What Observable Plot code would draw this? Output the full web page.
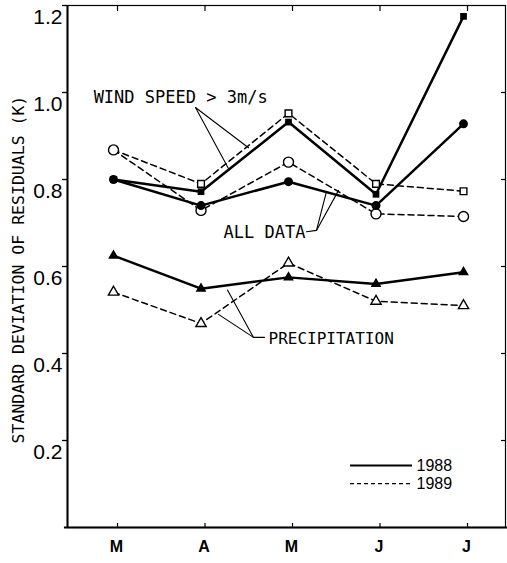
<!DOCTYPE html>
<html><head><meta charset="utf-8">
<script src="https://cdn.jsdelivr.net/npm/d3@7"></script>
<script src="https://cdn.jsdelivr.net/npm/@observablehq/plot@0.6"></script>
<style>html,body{margin:0;padding:0;background:#fff}svg{display:block}</style>
</head><body><div id="chart"></div>
<script>
// ---- data ----
const months = ["M", "A", "M", "J", "J"];
const allData1988 = [0.800, 0.740, 0.795, 0.740, 0.928];
const allData1989 = [0.868, 0.729, 0.840, 0.721, 0.715];
const wind1988    = [0.800, 0.772, 0.932, 0.766, 1.175];
const wind1989    = [0.868, 0.790, 0.952, 0.790, 0.773];
const precip1988  = [0.625, 0.549, 0.575, 0.560, 0.587];
const precip1989  = [0.541, 0.469, 0.608, 0.520, 0.510];
const yTicks = [0.2, 0.4, 0.6, 0.8, 1.0, 1.2];
const yLabel = "STANDARD DEVIATION OF RESIDUALS (K)";
const legendLabels = ["1988", "1989"];

// annotation anchors in data units (month index, value)
const windText   = {text: "WIND SPEED > 3m/s", i: -0.25, v: 0.988};
const windLeaders = [[[0.914, 0.9655], [1.30, 0.822]], [[0.914, 0.9655], [1.52, 0.873]]];
const allText    = {text: "ALL DATA", i: 1.234, v: 0.678};
const allLeaders = [[[2.183, 0.680], [2.297, 0.683], [2.411, 0.772]], [[2.297, 0.683], [2.549, 0.775]]];
const precipText = {text: "PRECIPITATION", i: 1.749, v: 0.4345};
const precipLeaders = [[[1.703, 0.437], [1.577, 0.437], [1.28, 0.546]], [[1.577, 0.437], [1.177, 0.490]]];
const legendLine = {i1: 2.686, i2: 3.394, it: 3.44, v: [0.1425, 0.101]};

// ---- helpers ----
const idx = months.map((_, i) => i);
const series = vals => vals.map((v, i) => ({i, v}));
const pts = arr => arr.map(([i, v]) => ({i, v}));
const xDomain = [-0.5486, 4.457];
const mono = "DejaVu Sans Mono, monospace";
const dash = "6,4";

const leaderMarks = [...windLeaders, ...allLeaders, ...precipLeaders].map(seg =>
  Plot.line(pts(seg), {x: "i", y: "v", stroke: "black", strokeWidth: 1.1}));

const chart = Plot.plot({
  width: 507, height: 563,
  marginLeft: 67, marginRight: 2, marginTop: 5, marginBottom: 36,
  x: {domain: xDomain, label: null},
  y: {domain: [0, 1.2], label: null},
  style: {fontFamily: "Liberation Sans, Arial, sans-serif", background: "white", color: "black"},
  marks: [
    Plot.frame({stroke: "black", strokeWidth: 1.2}),
    Plot.ruleX([xDomain[0]], {stroke: "black", strokeWidth: 2}),
    Plot.ruleY([0], {x1: xDomain[0] - 0.035, x2: xDomain[1] + 0.03, stroke: "black", strokeWidth: 2}),
    // axes
    Plot.axisY({ticks: yTicks, anchor: "left", tickSize: 5, strokeWidth: 1.3, tickFormat: () => ""}),
    Plot.axisY({ticks: yTicks, anchor: "left", tickSize: 0, tickPadding: 5, dy: 12, fontSize: 21, tickFormat: d => d.toFixed(1)}),
    Plot.axisY({ticks: yTicks.slice(0, 5), anchor: "right", tickSize: 5, dx: -5, strokeWidth: 1.2, tickFormat: () => ""}),
    Plot.axisX({ticks: idx, anchor: "bottom", tickSize: 4, dy: -4, dx: 2, strokeWidth: 1.2, tickFormat: () => ""}),
    Plot.axisX({ticks: idx, anchor: "top", tickSize: 5, dy: 5, dx: 2, strokeWidth: 1.2, tickFormat: () => ""}),
    Plot.axisX({ticks: idx, anchor: "bottom", tickSize: 0, tickPadding: 13, dx: 1, fontSize: 16, fontWeight: "bold", tickFormat: i => months[i]}),
    // y label
    Plot.text([yLabel], {frameAnchor: "left", y: () => 0.593, dx: -49, rotate: -90, textAnchor: "middle", fontFamily: mono, fontSize: 16.5, text: d => d}),
    // dashed 1989 lines
    Plot.line(series(wind1989), {x: "i", y: "v", stroke: "black", strokeWidth: 1.5, strokeDasharray: dash, dx: -2}),
    Plot.line(series(allData1989), {x: "i", y: "v", stroke: "black", strokeWidth: 1.5, strokeDasharray: dash, dx: -2}),
    Plot.line(series(precip1989), {x: "i", y: "v", stroke: "black", strokeWidth: 1.5, strokeDasharray: dash, dx: -2}),
    // solid 1988 lines
    Plot.line(series(wind1988), {x: "i", y: "v", stroke: "black", strokeWidth: 2.5, dx: -2}),
    Plot.line(series(allData1988), {x: "i", y: "v", stroke: "black", strokeWidth: 2.5, dx: -2}),
    Plot.line(series(precip1988), {x: "i", y: "v", stroke: "black", strokeWidth: 2.5, dx: -2}),
    // markers
    Plot.dot(series(wind1989), {x: "i", y: "v", symbol: "square", r: 3.8, fill: "white", stroke: "black", strokeWidth: 1.4, dx: -2}),
    Plot.dot(series(wind1988), {x: "i", y: "v", symbol: "square", r: 3.8, fill: "black", dx: -2}),
    Plot.dot(series(precip1989), {x: "i", y: "v", symbol: "triangle", r: 3.8, fill: "white", stroke: "black", strokeWidth: 1.4, dx: -2}),
    Plot.dot(series(precip1988), {x: "i", y: "v", symbol: "triangle", r: 4, fill: "black", dx: -2}),
    Plot.dot(series(allData1989), {x: "i", y: "v", r: 5, fill: "white", stroke: "black", strokeWidth: 1.4, dx: -2}),
    Plot.dot(series(allData1988), {x: "i", y: "v", r: 4.5, fill: "black", dx: -2}),
    // annotations
    ...leaderMarks,
    Plot.text([windText], {x: "i", y: "v", text: "text", textAnchor: "start", fontFamily: mono, fontSize: 17}),
    Plot.text([allText], {x: "i", y: "v", text: "text", textAnchor: "start", fontFamily: mono, fontSize: 17}),
    Plot.text([precipText], {x: "i", y: "v", text: "text", textAnchor: "start", fontFamily: mono, fontSize: 16}),
    // legend
    Plot.ruleY([legendLine.v[0]], {x1: legendLine.i1, x2: legendLine.i2, stroke: "black", strokeWidth: 2}),
    Plot.ruleY([legendLine.v[1]], {x1: legendLine.i1, x2: legendLine.i2, stroke: "black", strokeWidth: 1.3, strokeDasharray: "4,3"}),
    Plot.text(legendLabels, {x: () => legendLine.it, y: (d, k) => legendLine.v[k], text: d => d, textAnchor: "start", fontSize: 16})
  ]
});
document.getElementById("chart").appendChild(chart);
</script>
</body></html>
